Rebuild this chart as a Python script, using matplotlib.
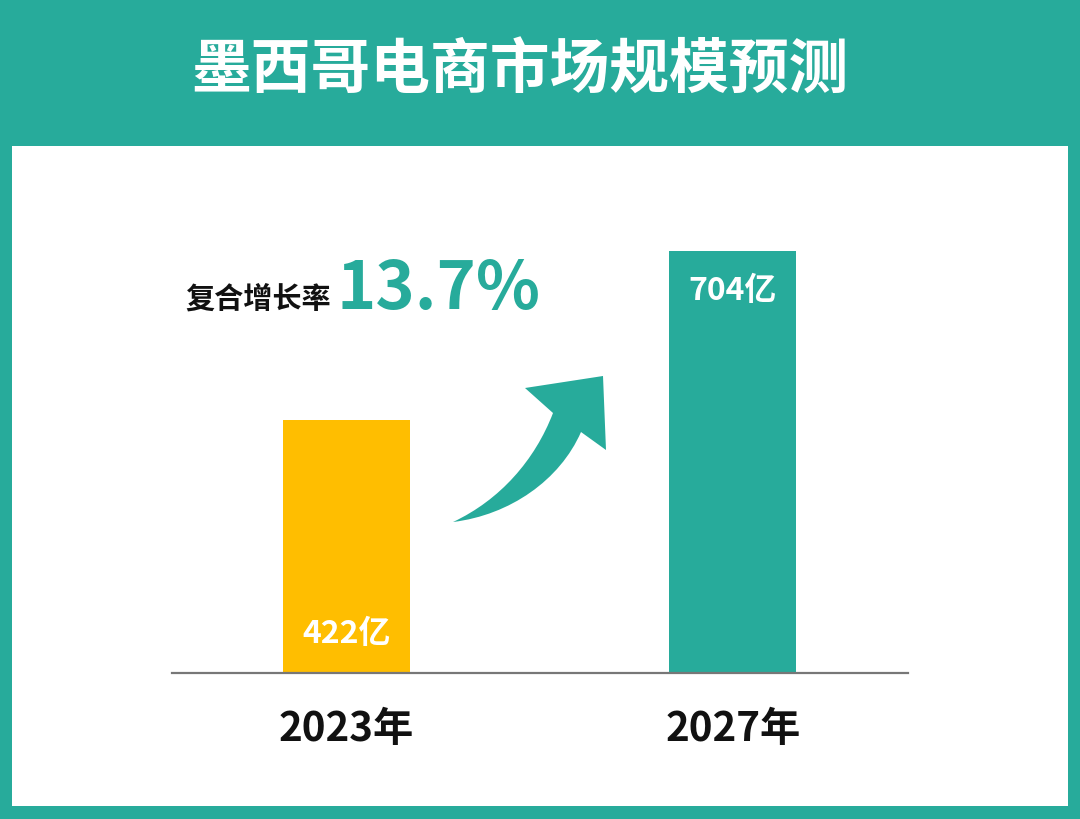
import numpy as np
import matplotlib.pyplot as plt
from matplotlib.patches import Rectangle, PathPatch
from matplotlib.path import Path
from matplotlib.transforms import Affine2D

plt.rcParams['font.family'] = ['Noto Sans CJK SC', 'DejaVu Sans']

years = ["2023年", "2027年"]
values = [422, 704]
value_labels = ["422亿", "704亿"]
bar_colors = ["#FFBE00", "#27AB9B"]
title = "墨西哥电商市场规模预测"
cagr_label = "复合增长率"
cagr_value = "13.7%"

TEAL = "#27AB9B"
W, H = 1080, 819

fig = plt.figure(figsize=(W / 100, H / 100), dpi=100, facecolor=TEAL)

# white panel
fig.patches.append(Rectangle((12 / W, 1 - 806 / H), 1056 / W, 660 / H,
                             transform=fig.transFigure, facecolor="white",
                             edgecolor="none", zorder=-1))

fig.text(520 / W, 1 - 72 / H, title, color="white", fontsize=43,
         fontweight="bold", ha="center", va="center")

# bars
ax = fig.add_axes([172 / W, 1 - 673 / H, 736 / W, 527 / H])
ax.set_facecolor("none")
x = np.arange(len(values))
ax.bar(x, values, width=0.3286, color=bar_colors, zorder=2)
ax.set_xlim(-0.4515, 1.4528)
ax.set_ylim(0, 879)
for s in ["top", "left", "right"]:
    ax.spines[s].set_visible(False)
ax.spines["bottom"].set_color("#777777")
ax.spines["bottom"].set_linewidth(1.6)
ax.spines["bottom"].set_zorder(3)
ax.set_xticks([])
ax.set_yticks([])

# value labels: first near the bottom of its bar, second near the top
ax.annotate(value_labels[0], (x[0], 0), xytext=(0, 28), textcoords="offset points",
            ha="center", va="center", color="white", fontsize=23, fontweight="bold")
ax.annotate(value_labels[1], (x[1], values[1]), xytext=(0, -29), textcoords="offset points",
            ha="center", va="center", color="white", fontsize=23, fontweight="bold")

for xi, yr in zip(x, years):
    ax.annotate(yr, (xi, 0), xytext=(0, -41), textcoords="offset points",
                ha="center", va="center", color="#111111", fontsize=29,
                fontweight="bold", annotation_clip=False)

fig.text(185 / W, 1 - 308 / H, cagr_label, color="#111111", fontsize=21,
         fontweight="bold", ha="left", va="baseline")
fig.text(337 / W, 1 - 309 / H, cagr_value, color=TEAL, fontsize=48,
         fontweight="bold", ha="left", va="baseline")

# curved arrow (pixel coords, y from top)
verts = [
    (453, 522),
    (500, 500), (535, 460), (553, 413),
    (525, 388),
    (603, 376),
    (606, 450),
    (581, 432),
    (560, 480), (510, 515), (453, 522),
]
codes = [Path.MOVETO,
         Path.CURVE4, Path.CURVE4, Path.CURVE4,
         Path.LINETO, Path.LINETO, Path.LINETO, Path.LINETO,
         Path.CURVE4, Path.CURVE4, Path.CURVE4]
to_fig = Affine2D().scale(1 / W, -1 / H).translate(0, 1) + fig.transFigure
fig.patches.append(PathPatch(Path(verts, codes), transform=to_fig,
                             facecolor=TEAL, edgecolor="none", zorder=3))

fig.savefig("out.png", dpi=100, facecolor=TEAL)
